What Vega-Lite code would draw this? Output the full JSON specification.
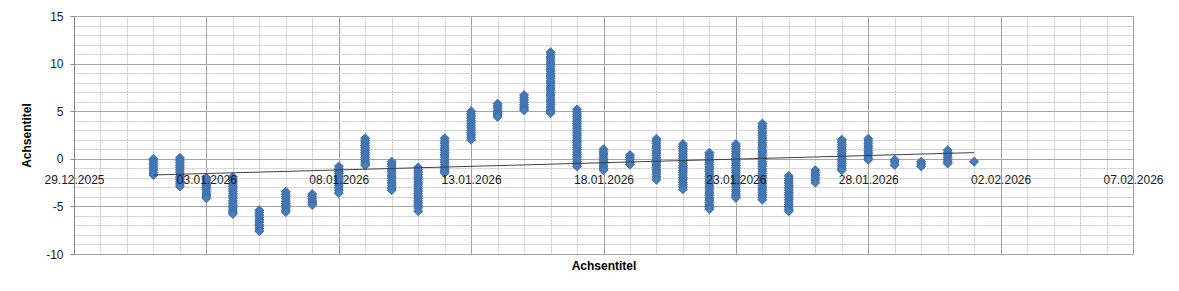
{
  "$schema": "https://vega.github.io/schema/vega-lite/v6.json",
  "width": 1059,
  "height": 238,
  "autosize": "none",
  "padding": {"left": 74, "top": 16, "right": 46, "bottom": 37},
  "background": "white",
  "config": {"view": {"stroke": null}, "font": "Liberation Sans"},
  "datasets": {
    "points": [
      {"d":"2026-01-01","t":0.0},{"d":"2026-01-01","t":-0.25},{"d":"2026-01-01","t":-0.5},{"d":"2026-01-01","t":-0.7},{"d":"2026-01-01","t":-0.95},{"d":"2026-01-01","t":-1.2},{"d":"2026-01-01","t":-1.45},{"d":"2026-01-01","t":-1.7},
      {"d":"2026-01-02","t":0.1},{"d":"2026-01-02","t":-0.15},{"d":"2026-01-02","t":-0.4},{"d":"2026-01-02","t":-0.65},{"d":"2026-01-02","t":-0.9},{"d":"2026-01-02","t":-1.15},{"d":"2026-01-02","t":-1.4},{"d":"2026-01-02","t":-1.65},{"d":"2026-01-02","t":-1.9},{"d":"2026-01-02","t":-2.15},{"d":"2026-01-02","t":-2.4},{"d":"2026-01-02","t":-2.65},{"d":"2026-01-02","t":-2.9},
      {"d":"2026-01-03","t":-2.0},{"d":"2026-01-03","t":-2.25},{"d":"2026-01-03","t":-2.5},{"d":"2026-01-03","t":-2.75},{"d":"2026-01-03","t":-3.0},{"d":"2026-01-03","t":-3.2},{"d":"2026-01-03","t":-3.45},{"d":"2026-01-03","t":-3.7},{"d":"2026-01-03","t":-3.9},{"d":"2026-01-03","t":-4.15},
      {"d":"2026-01-04","t":-1.9},{"d":"2026-01-04","t":-2.15},{"d":"2026-01-04","t":-2.4},{"d":"2026-01-04","t":-2.65},{"d":"2026-01-04","t":-2.9},{"d":"2026-01-04","t":-3.15},{"d":"2026-01-04","t":-3.4},{"d":"2026-01-04","t":-3.65},{"d":"2026-01-04","t":-3.9},{"d":"2026-01-04","t":-4.15},{"d":"2026-01-04","t":-4.4},{"d":"2026-01-04","t":-4.65},{"d":"2026-01-04","t":-4.9},{"d":"2026-01-04","t":-5.15},{"d":"2026-01-04","t":-5.4},{"d":"2026-01-04","t":-5.6},{"d":"2026-01-04","t":-5.8},
      {"d":"2026-01-05","t":-5.4},{"d":"2026-01-05","t":-5.65},{"d":"2026-01-05","t":-5.9},{"d":"2026-01-05","t":-6.15},{"d":"2026-01-05","t":-6.4},{"d":"2026-01-05","t":-6.65},{"d":"2026-01-05","t":-6.9},{"d":"2026-01-05","t":-7.1},{"d":"2026-01-05","t":-7.35},{"d":"2026-01-05","t":-7.6},
      {"d":"2026-01-06","t":-3.45},{"d":"2026-01-06","t":-3.7},{"d":"2026-01-06","t":-3.95},{"d":"2026-01-06","t":-4.2},{"d":"2026-01-06","t":-4.45},{"d":"2026-01-06","t":-4.7},{"d":"2026-01-06","t":-4.9},{"d":"2026-01-06","t":-5.15},{"d":"2026-01-06","t":-5.4},{"d":"2026-01-06","t":-5.6},
      {"d":"2026-01-07","t":-3.7},{"d":"2026-01-07","t":-3.95},{"d":"2026-01-07","t":-4.2},{"d":"2026-01-07","t":-4.45},{"d":"2026-01-07","t":-4.65},{"d":"2026-01-07","t":-4.85},
      {"d":"2026-01-08","t":-0.8},{"d":"2026-01-08","t":-1.05},{"d":"2026-01-08","t":-1.3},{"d":"2026-01-08","t":-1.55},{"d":"2026-01-08","t":-1.8},{"d":"2026-01-08","t":-2.05},{"d":"2026-01-08","t":-2.3},{"d":"2026-01-08","t":-2.55},{"d":"2026-01-08","t":-2.8},{"d":"2026-01-08","t":-3.05},{"d":"2026-01-08","t":-3.3},{"d":"2026-01-08","t":-3.6},
      {"d":"2026-01-09","t":2.15},{"d":"2026-01-09","t":1.9},{"d":"2026-01-09","t":1.65},{"d":"2026-01-09","t":1.4},{"d":"2026-01-09","t":1.15},{"d":"2026-01-09","t":0.9},{"d":"2026-01-09","t":0.65},{"d":"2026-01-09","t":0.4},{"d":"2026-01-09","t":0.15},{"d":"2026-01-09","t":-0.1},{"d":"2026-01-09","t":-0.35},{"d":"2026-01-09","t":-0.55},{"d":"2026-01-09","t":-0.7},
      {"d":"2026-01-10","t":-0.3},{"d":"2026-01-10","t":-0.55},{"d":"2026-01-10","t":-0.8},{"d":"2026-01-10","t":-1.05},{"d":"2026-01-10","t":-1.3},{"d":"2026-01-10","t":-1.55},{"d":"2026-01-10","t":-1.8},{"d":"2026-01-10","t":-2.05},{"d":"2026-01-10","t":-2.3},{"d":"2026-01-10","t":-2.55},{"d":"2026-01-10","t":-2.8},{"d":"2026-01-10","t":-3.05},{"d":"2026-01-10","t":-3.3},
      {"d":"2026-01-11","t":-0.9},{"d":"2026-01-11","t":-1.15},{"d":"2026-01-11","t":-1.4},{"d":"2026-01-11","t":-1.65},{"d":"2026-01-11","t":-1.9},{"d":"2026-01-11","t":-2.15},{"d":"2026-01-11","t":-2.4},{"d":"2026-01-11","t":-2.65},{"d":"2026-01-11","t":-2.9},{"d":"2026-01-11","t":-3.15},{"d":"2026-01-11","t":-3.4},{"d":"2026-01-11","t":-3.65},{"d":"2026-01-11","t":-3.9},{"d":"2026-01-11","t":-4.15},{"d":"2026-01-11","t":-4.4},{"d":"2026-01-11","t":-4.65},{"d":"2026-01-11","t":-4.9},{"d":"2026-01-11","t":-5.15},{"d":"2026-01-11","t":-5.5},
      {"d":"2026-01-12","t":2.15},{"d":"2026-01-12","t":1.9},{"d":"2026-01-12","t":1.65},{"d":"2026-01-12","t":1.4},{"d":"2026-01-12","t":1.15},{"d":"2026-01-12","t":0.9},{"d":"2026-01-12","t":0.65},{"d":"2026-01-12","t":0.4},{"d":"2026-01-12","t":0.15},{"d":"2026-01-12","t":-0.1},{"d":"2026-01-12","t":-0.35},{"d":"2026-01-12","t":-0.6},{"d":"2026-01-12","t":-0.85},{"d":"2026-01-12","t":-1.1},{"d":"2026-01-12","t":-1.3},{"d":"2026-01-12","t":-1.5},
      {"d":"2026-01-13","t":5.0},{"d":"2026-01-13","t":4.75},{"d":"2026-01-13","t":4.5},{"d":"2026-01-13","t":4.25},{"d":"2026-01-13","t":4.0},{"d":"2026-01-13","t":3.75},{"d":"2026-01-13","t":3.5},{"d":"2026-01-13","t":3.25},{"d":"2026-01-13","t":3.0},{"d":"2026-01-13","t":2.75},{"d":"2026-01-13","t":2.5},{"d":"2026-01-13","t":2.25},{"d":"2026-01-13","t":2.0},
      {"d":"2026-01-14","t":5.8},{"d":"2026-01-14","t":5.55},{"d":"2026-01-14","t":5.3},{"d":"2026-01-14","t":5.05},{"d":"2026-01-14","t":4.8},{"d":"2026-01-14","t":4.6},{"d":"2026-01-14","t":4.4},
      {"d":"2026-01-15","t":6.7},{"d":"2026-01-15","t":6.45},{"d":"2026-01-15","t":6.2},{"d":"2026-01-15","t":5.95},{"d":"2026-01-15","t":5.7},{"d":"2026-01-15","t":5.45},{"d":"2026-01-15","t":5.25},{"d":"2026-01-15","t":5.1},
      {"d":"2026-01-16","t":11.2},{"d":"2026-01-16","t":10.95},{"d":"2026-01-16","t":10.7},{"d":"2026-01-16","t":10.45},{"d":"2026-01-16","t":10.2},{"d":"2026-01-16","t":9.95},{"d":"2026-01-16","t":9.7},{"d":"2026-01-16","t":9.45},{"d":"2026-01-16","t":9.2},{"d":"2026-01-16","t":8.95},{"d":"2026-01-16","t":8.7},{"d":"2026-01-16","t":8.45},{"d":"2026-01-16","t":8.2},{"d":"2026-01-16","t":7.95},{"d":"2026-01-16","t":7.7},{"d":"2026-01-16","t":7.45},{"d":"2026-01-16","t":7.2},{"d":"2026-01-16","t":6.95},{"d":"2026-01-16","t":6.7},{"d":"2026-01-16","t":6.45},{"d":"2026-01-16","t":6.2},{"d":"2026-01-16","t":5.95},{"d":"2026-01-16","t":5.7},{"d":"2026-01-16","t":5.45},{"d":"2026-01-16","t":5.2},{"d":"2026-01-16","t":5.0},{"d":"2026-01-16","t":4.8},
      {"d":"2026-01-17","t":5.2},{"d":"2026-01-17","t":4.95},{"d":"2026-01-17","t":4.7},{"d":"2026-01-17","t":4.45},{"d":"2026-01-17","t":4.2},{"d":"2026-01-17","t":3.95},{"d":"2026-01-17","t":3.7},{"d":"2026-01-17","t":3.45},{"d":"2026-01-17","t":3.2},{"d":"2026-01-17","t":2.95},{"d":"2026-01-17","t":2.7},{"d":"2026-01-17","t":2.45},{"d":"2026-01-17","t":2.2},{"d":"2026-01-17","t":1.95},{"d":"2026-01-17","t":1.7},{"d":"2026-01-17","t":1.45},{"d":"2026-01-17","t":1.2},{"d":"2026-01-17","t":0.95},{"d":"2026-01-17","t":0.7},{"d":"2026-01-17","t":0.45},{"d":"2026-01-17","t":0.2},{"d":"2026-01-17","t":-0.05},{"d":"2026-01-17","t":-0.3},{"d":"2026-01-17","t":-0.55},{"d":"2026-01-17","t":-0.8},
      {"d":"2026-01-18","t":1.0},{"d":"2026-01-18","t":0.75},{"d":"2026-01-18","t":0.5},{"d":"2026-01-18","t":0.25},{"d":"2026-01-18","t":0.0},{"d":"2026-01-18","t":-0.25},{"d":"2026-01-18","t":-0.5},{"d":"2026-01-18","t":-0.75},{"d":"2026-01-18","t":-1.0},{"d":"2026-01-18","t":-1.2},
      {"d":"2026-01-19","t":0.4},{"d":"2026-01-19","t":0.15},{"d":"2026-01-19","t":-0.1},{"d":"2026-01-19","t":-0.35},{"d":"2026-01-19","t":-0.6},
      {"d":"2026-01-20","t":2.1},{"d":"2026-01-20","t":1.85},{"d":"2026-01-20","t":1.6},{"d":"2026-01-20","t":1.35},{"d":"2026-01-20","t":1.1},{"d":"2026-01-20","t":0.85},{"d":"2026-01-20","t":0.6},{"d":"2026-01-20","t":0.35},{"d":"2026-01-20","t":0.1},{"d":"2026-01-20","t":-0.15},{"d":"2026-01-20","t":-0.4},{"d":"2026-01-20","t":-0.65},{"d":"2026-01-20","t":-0.9},{"d":"2026-01-20","t":-1.15},{"d":"2026-01-20","t":-1.4},{"d":"2026-01-20","t":-1.65},{"d":"2026-01-20","t":-1.9},{"d":"2026-01-20","t":-2.2},
      {"d":"2026-01-21","t":1.55},{"d":"2026-01-21","t":1.3},{"d":"2026-01-21","t":1.05},{"d":"2026-01-21","t":0.8},{"d":"2026-01-21","t":0.55},{"d":"2026-01-21","t":0.3},{"d":"2026-01-21","t":0.05},{"d":"2026-01-21","t":-0.2},{"d":"2026-01-21","t":-0.45},{"d":"2026-01-21","t":-0.7},{"d":"2026-01-21","t":-0.95},{"d":"2026-01-21","t":-1.2},{"d":"2026-01-21","t":-1.45},{"d":"2026-01-21","t":-1.7},{"d":"2026-01-21","t":-1.95},{"d":"2026-01-21","t":-2.2},{"d":"2026-01-21","t":-2.45},{"d":"2026-01-21","t":-2.7},{"d":"2026-01-21","t":-2.95},{"d":"2026-01-21","t":-3.2},
      {"d":"2026-01-22","t":0.65},{"d":"2026-01-22","t":0.4},{"d":"2026-01-22","t":0.15},{"d":"2026-01-22","t":-0.1},{"d":"2026-01-22","t":-0.35},{"d":"2026-01-22","t":-0.6},{"d":"2026-01-22","t":-0.85},{"d":"2026-01-22","t":-1.1},{"d":"2026-01-22","t":-1.35},{"d":"2026-01-22","t":-1.6},{"d":"2026-01-22","t":-1.85},{"d":"2026-01-22","t":-2.1},{"d":"2026-01-22","t":-2.35},{"d":"2026-01-22","t":-2.6},{"d":"2026-01-22","t":-2.85},{"d":"2026-01-22","t":-3.1},{"d":"2026-01-22","t":-3.35},{"d":"2026-01-22","t":-3.6},{"d":"2026-01-22","t":-3.85},{"d":"2026-01-22","t":-4.1},{"d":"2026-01-22","t":-4.35},{"d":"2026-01-22","t":-4.6},{"d":"2026-01-22","t":-4.85},{"d":"2026-01-22","t":-5.1},{"d":"2026-01-22","t":-5.3},
      {"d":"2026-01-23","t":1.55},{"d":"2026-01-23","t":1.3},{"d":"2026-01-23","t":1.05},{"d":"2026-01-23","t":0.8},{"d":"2026-01-23","t":0.55},{"d":"2026-01-23","t":0.3},{"d":"2026-01-23","t":0.05},{"d":"2026-01-23","t":-0.2},{"d":"2026-01-23","t":-0.45},{"d":"2026-01-23","t":-0.7},{"d":"2026-01-23","t":-0.95},{"d":"2026-01-23","t":-1.2},{"d":"2026-01-23","t":-1.45},{"d":"2026-01-23","t":-1.7},{"d":"2026-01-23","t":-1.95},{"d":"2026-01-23","t":-2.2},{"d":"2026-01-23","t":-2.45},{"d":"2026-01-23","t":-2.7},{"d":"2026-01-23","t":-2.95},{"d":"2026-01-23","t":-3.2},{"d":"2026-01-23","t":-3.45},{"d":"2026-01-23","t":-3.7},{"d":"2026-01-23","t":-3.9},{"d":"2026-01-23","t":-4.1},
      {"d":"2026-01-24","t":3.7},{"d":"2026-01-24","t":3.45},{"d":"2026-01-24","t":3.2},{"d":"2026-01-24","t":2.95},{"d":"2026-01-24","t":2.7},{"d":"2026-01-24","t":2.45},{"d":"2026-01-24","t":2.2},{"d":"2026-01-24","t":1.95},{"d":"2026-01-24","t":1.7},{"d":"2026-01-24","t":1.45},{"d":"2026-01-24","t":1.2},{"d":"2026-01-24","t":0.95},{"d":"2026-01-24","t":0.7},{"d":"2026-01-24","t":0.45},{"d":"2026-01-24","t":0.2},{"d":"2026-01-24","t":-0.05},{"d":"2026-01-24","t":-0.3},{"d":"2026-01-24","t":-0.55},{"d":"2026-01-24","t":-0.8},{"d":"2026-01-24","t":-1.05},{"d":"2026-01-24","t":-1.3},{"d":"2026-01-24","t":-1.55},{"d":"2026-01-24","t":-1.8},{"d":"2026-01-24","t":-2.05},{"d":"2026-01-24","t":-2.3},{"d":"2026-01-24","t":-2.55},{"d":"2026-01-24","t":-2.8},{"d":"2026-01-24","t":-3.05},{"d":"2026-01-24","t":-3.3},{"d":"2026-01-24","t":-3.55},{"d":"2026-01-24","t":-3.8},{"d":"2026-01-24","t":-4.05},{"d":"2026-01-24","t":-4.3},
      {"d":"2026-01-25","t":-1.8},{"d":"2026-01-25","t":-2.05},{"d":"2026-01-25","t":-2.3},{"d":"2026-01-25","t":-2.55},{"d":"2026-01-25","t":-2.8},{"d":"2026-01-25","t":-3.05},{"d":"2026-01-25","t":-3.3},{"d":"2026-01-25","t":-3.55},{"d":"2026-01-25","t":-3.8},{"d":"2026-01-25","t":-4.05},{"d":"2026-01-25","t":-4.3},{"d":"2026-01-25","t":-4.55},{"d":"2026-01-25","t":-4.8},{"d":"2026-01-25","t":-5.05},{"d":"2026-01-25","t":-5.3},{"d":"2026-01-25","t":-5.5},
      {"d":"2026-01-26","t":-1.2},{"d":"2026-01-26","t":-1.45},{"d":"2026-01-26","t":-1.7},{"d":"2026-01-26","t":-1.95},{"d":"2026-01-26","t":-2.2},{"d":"2026-01-26","t":-2.5},
      {"d":"2026-01-27","t":2.0},{"d":"2026-01-27","t":1.75},{"d":"2026-01-27","t":1.5},{"d":"2026-01-27","t":1.25},{"d":"2026-01-27","t":1.0},{"d":"2026-01-27","t":0.75},{"d":"2026-01-27","t":0.5},{"d":"2026-01-27","t":0.25},{"d":"2026-01-27","t":0.0},{"d":"2026-01-27","t":-0.25},{"d":"2026-01-27","t":-0.5},{"d":"2026-01-27","t":-0.75},{"d":"2026-01-27","t":-1.0},{"d":"2026-01-27","t":-1.2},
      {"d":"2026-01-28","t":2.1},{"d":"2026-01-28","t":1.85},{"d":"2026-01-28","t":1.6},{"d":"2026-01-28","t":1.35},{"d":"2026-01-28","t":1.1},{"d":"2026-01-28","t":0.85},{"d":"2026-01-28","t":0.6},{"d":"2026-01-28","t":0.35},{"d":"2026-01-28","t":0.1},{"d":"2026-01-28","t":-0.1},
      {"d":"2026-01-29","t":-0.1},{"d":"2026-01-29","t":-0.35},{"d":"2026-01-29","t":-0.65},
      {"d":"2026-01-30","t":-0.3},{"d":"2026-01-30","t":-0.55},{"d":"2026-01-30","t":-0.8},
      {"d":"2026-01-31","t":0.9},{"d":"2026-01-31","t":0.65},{"d":"2026-01-31","t":0.4},{"d":"2026-01-31","t":0.15},{"d":"2026-01-31","t":-0.1},{"d":"2026-01-31","t":-0.3},{"d":"2026-01-31","t":-0.5},
      {"d":"2026-02-01","t":-0.3}
    ],
    "trend": [
      {"d":"2026-01-01","t":-1.7},
      {"d":"2026-02-01","t":0.65}
    ]
  },
  "encoding": {
    "y": {
      "field": "t", "type": "quantitative",
      "scale": {"domain": [-10, 15], "nice": false, "zero": false},
      "axis": {
        "values": [-10,-9,-8,-7,-6,-5,-4,-3,-2,-1,0,1,2,3,4,5,6,7,8,9,10,11,12,13,14,15],
        "labelExpr": "indexof([-10,-5,0,5,10,15], datum.value) >= 0 ? '' + datum.value : ''",
        "labelOverlap": false, "labelBound": false, "labelFlush": false,
        "labelFont": "Liberation Sans", "labelFontSize": 12, "labelColor": "#1a1a1a", "labelPadding": 7,
        "grid": true,
        "gridColor": {"condition": {"test": "indexof([-10,-5,0,5,10,15], datum.value) >= 0", "value": "#a6a6a6"}, "value": "#c4c4c4"},
        "gridDash": {"condition": {"test": "indexof([-10,-5,0,5,10,15], datum.value) >= 0", "value": []}, "value": [2, 1]},
        "domain": true, "domainColor": "#868686",
        "ticks": true, "tickSize": 4,
        "tickColor": {"condition": {"test": "indexof([-10,-5,0,5,10,15], datum.value) >= 0", "value": "#868686"}, "value": "transparent"},
        "title": "Achsentitel", "titleFont": "Liberation Sans", "titleFontSize": 12, "titleFontWeight": "bold", "titleColor": "#000000", "titlePadding": 12
      }
    }
  },
  "layer": [
    {
      "data": {"name": "points"},
      "mark": {"type": "point", "shape": "diamond", "filled": true, "size": 80, "fill": "#4A7EBB", "stroke": "#3A69A6", "strokeWidth": 1, "opacity": 1},
      "encoding": {
        "x": {
          "field": "d", "type": "temporal",
          "scale": {"type": "utc", "domain": [{"year": 2025, "month": 12, "date": 29, "utc": true}, {"year": 2026, "month": 2, "date": 7, "utc": true}], "nice": false},
          "axis": {
            "orient": "top", "grid": true, "domain": false, "ticks": false, "labels": false, "title": null,
            "tickCount": {"interval": "day", "step": 1},
            "gridColor": {"condition": {"test": "round((datum.value - utc(2025,11,29))/86400000) % 5 === 0", "value": "#a0a0a0"}, "value": "#c4c4c4"},
            "gridDash": {"condition": {"test": "round((datum.value - utc(2025,11,29))/86400000) % 5 === 0", "value": []}, "value": [2, 1]},
            "gridWidth": 1
          }
        }
      }
    },
    {
      "data": {"name": "trend"},
      "mark": {"type": "line", "color": "#404040", "strokeWidth": 1},
      "encoding": {
        "x": {
          "field": "d", "type": "temporal",
          "axis": {
            "orient": "bottom", "grid": false, "domain": false, "ticks": false,
            "tickCount": {"interval": "day", "step": 1},
            "labelExpr": "round((datum.value - utc(2025,11,29))/86400000) % 5 === 0 ? utcFormat(datum.value, '%d.%m.%Y') : ''",
            "labelOverlap": false, "labelBound": false, "labelFlush": false,
            "labelFont": "Liberation Sans", "labelFontSize": 12, "labelColor": "#1a1a1a", "labelPadding": 16,
            "offset": -95.2, "zindex": 1,
            "title": "Achsentitel", "titleFont": "Liberation Sans", "titleFontSize": 12, "titleFontWeight": "bold", "titleColor": "#000000",
            "titleY": 107, "titleBaseline": "middle"
          }
        }
      }
    }
  ],
  "resolve": {"axis": {"x": "independent"}}
}
